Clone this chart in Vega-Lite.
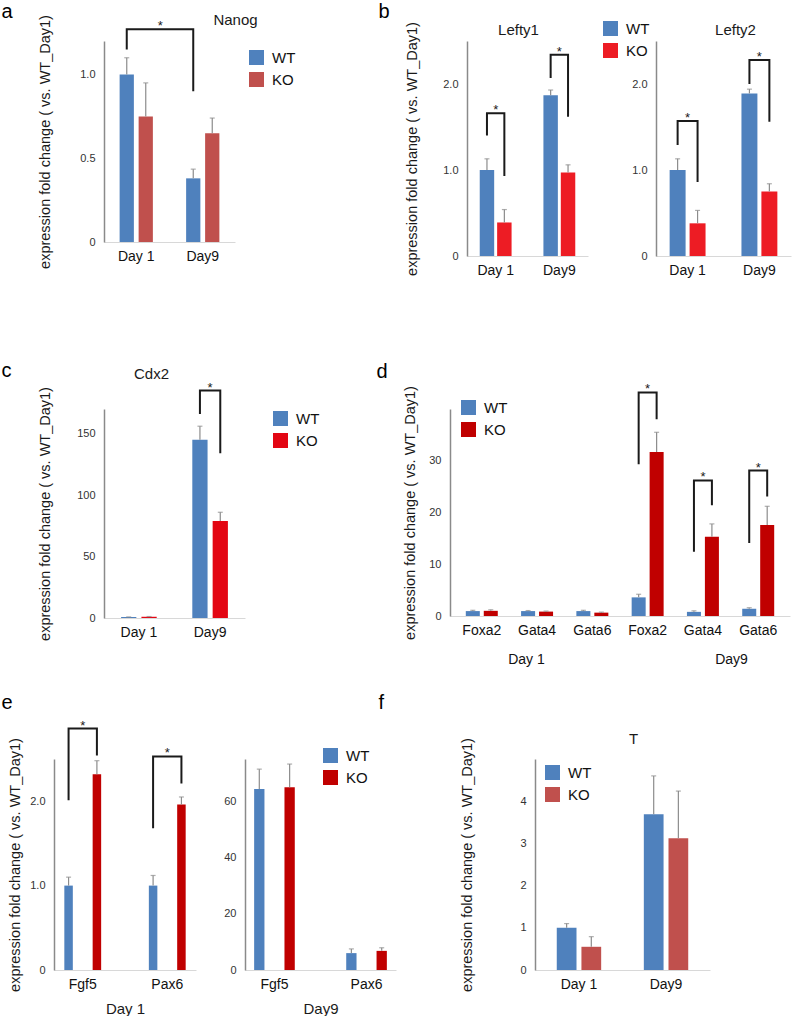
{
"$schema": "https://vega.github.io/schema/vega-lite/v6.json",
"background": "white",
"padding": {"left": 1, "top": 1, "right": 2, "bottom": 0},
"datasets": {
 "a": [{"day":"Day 1","g":"WT","value":1.0,"upper":1.10},{"day":"Day 1","g":"KO","value":0.75,"upper":0.95},{"day":"Day9","g":"WT","value":0.38,"upper":0.435},{"day":"Day9","g":"KO","value":0.65,"upper":0.74}],
 "a_br": [{"id":1,"o":1,"day":"Day 1","g":"WT","y":1.15},{"id":1,"o":2,"day":"Day 1","g":"WT","y":1.27},{"id":1,"o":3,"day":"Day9","g":"WT","y":1.27},{"id":1,"o":4,"day":"Day9","g":"WT","y":0.90}],
 "a_star": [{"day":"Day 1","y":1.27}],
 "b1": [{"day":"Day 1","g":"WT","value":1.0,"upper":1.13},{"day":"Day 1","g":"KO","value":0.39,"upper":0.54},{"day":"Day9","g":"WT","value":1.87,"upper":1.93},{"day":"Day9","g":"KO","value":0.97,"upper":1.06}],
 "b1_br": [{"id":1,"o":1,"day":"Day 1","g":"WT","y":1.40},{"id":1,"o":2,"day":"Day 1","g":"WT","y":1.66},{"id":1,"o":3,"day":"Day 1","g":"KO","y":1.66},{"id":1,"o":4,"day":"Day 1","g":"KO","y":0.93},{"id":2,"o":1,"day":"Day9","g":"WT","y":2.07},{"id":2,"o":2,"day":"Day9","g":"WT","y":2.34},{"id":2,"o":3,"day":"Day9","g":"KO","y":2.34},{"id":2,"o":4,"day":"Day9","g":"KO","y":1.62}],
 "b1_star": [{"day":"Day 1","y":1.66},{"day":"Day9","y":2.34}],
 "b2": [{"day":"Day 1","g":"WT","value":1.0,"upper":1.13},{"day":"Day 1","g":"KO","value":0.38,"upper":0.53},{"day":"Day9","g":"WT","value":1.89,"upper":1.94},{"day":"Day9","g":"KO","value":0.75,"upper":0.84}],
 "b2_br": [{"id":1,"o":1,"day":"Day 1","g":"WT","y":1.29},{"id":1,"o":2,"day":"Day 1","g":"WT","y":1.57},{"id":1,"o":3,"day":"Day 1","g":"KO","y":1.57},{"id":1,"o":4,"day":"Day 1","g":"KO","y":0.86},{"id":2,"o":1,"day":"Day9","g":"WT","y":2.0},{"id":2,"o":2,"day":"Day9","g":"WT","y":2.28},{"id":2,"o":3,"day":"Day9","g":"KO","y":2.28},{"id":2,"o":4,"day":"Day9","g":"KO","y":1.56}],
 "b2_star": [{"day":"Day 1","y":1.57},{"day":"Day9","y":2.28}],
 "c": [{"day":"Day 1","g":"WT","value":0.8,"upper":0.9},{"day":"Day 1","g":"KO","value":1.0,"upper":1.2},{"day":"Day9","g":"WT","value":145,"upper":156},{"day":"Day9","g":"KO","value":79,"upper":86}],
 "c_br": [{"id":1,"o":1,"day":"Day9","g":"WT","y":166},{"id":1,"o":2,"day":"Day9","g":"WT","y":185},{"id":1,"o":3,"day":"Day9","g":"KO","y":185},{"id":1,"o":4,"day":"Day9","g":"KO","y":134}],
 "c_star": [{"day":"Day9","y":185}],
 "d": [{"k":"Day 1|Foxa2","day":"Day 1","g":"WT","value":0.95,"upper":1.1},{"k":"Day 1|Foxa2","day":"Day 1","g":"KO","value":1.0,"upper":1.2},{"k":"Day 1|Gata4","day":"Day 1","g":"WT","value":0.95,"upper":1.05},{"k":"Day 1|Gata4","day":"Day 1","g":"KO","value":0.85,"upper":0.95},{"k":"Day 1|Gata6","day":"Day 1","g":"WT","value":0.95,"upper":1.1},{"k":"Day 1|Gata6","day":"Day 1","g":"KO","value":0.65,"upper":0.75},{"k":"Day9|Foxa2","day":"Day9","g":"WT","value":3.6,"upper":4.2},{"k":"Day9|Foxa2","day":"Day9","g":"KO","value":31.7,"upper":35.5},{"k":"Day9|Gata4","day":"Day9","g":"WT","value":0.8,"upper":1.0},{"k":"Day9|Gata4","day":"Day9","g":"KO","value":15.3,"upper":17.8},{"k":"Day9|Gata6","day":"Day9","g":"WT","value":1.4,"upper":1.6},{"k":"Day9|Gata6","day":"Day9","g":"KO","value":17.6,"upper":21.2}],
 "d_br": [{"id":1,"o":1,"k":"Day9|Foxa2","g":"WT","y":29.3},{"id":1,"o":2,"k":"Day9|Foxa2","g":"WT","y":43.2},{"id":1,"o":3,"k":"Day9|Foxa2","g":"KO","y":43.2},{"id":1,"o":4,"k":"Day9|Foxa2","g":"KO","y":38},{"id":2,"o":1,"k":"Day9|Gata4","g":"WT","y":12.4},{"id":2,"o":2,"k":"Day9|Gata4","g":"WT","y":26.2},{"id":2,"o":3,"k":"Day9|Gata4","g":"KO","y":26.2},{"id":2,"o":4,"k":"Day9|Gata4","g":"KO","y":21.4},{"id":3,"o":1,"k":"Day9|Gata6","g":"WT","y":14.1},{"id":3,"o":2,"k":"Day9|Gata6","g":"WT","y":28.1},{"id":3,"o":3,"k":"Day9|Gata6","g":"KO","y":28.1},{"id":3,"o":4,"k":"Day9|Gata6","g":"KO","y":23.1}],
 "d_star": [{"k":"Day9|Foxa2","y":43.2},{"k":"Day9|Gata4","y":26.2},{"k":"Day9|Gata6","y":28.1}],
 "e1": [{"gene":"Fgf5","g":"WT","value":1.0,"upper":1.1},{"gene":"Fgf5","g":"KO","value":2.32,"upper":2.48},{"gene":"Pax6","g":"WT","value":1.0,"upper":1.12},{"gene":"Pax6","g":"KO","value":1.96,"upper":2.05}],
 "e1_br": [{"id":1,"o":1,"gene":"Fgf5","g":"WT","y":2.01},{"id":1,"o":2,"gene":"Fgf5","g":"WT","y":2.86},{"id":1,"o":3,"gene":"Fgf5","g":"KO","y":2.86},{"id":1,"o":4,"gene":"Fgf5","g":"KO","y":2.54},{"id":2,"o":1,"gene":"Pax6","g":"WT","y":1.68},{"id":2,"o":2,"gene":"Pax6","g":"WT","y":2.53},{"id":2,"o":3,"gene":"Pax6","g":"KO","y":2.53},{"id":2,"o":4,"gene":"Pax6","g":"KO","y":2.21}],
 "e1_star": [{"gene":"Fgf5","y":2.86},{"gene":"Pax6","y":2.53}],
 "e2": [{"gene":"Fgf5","g":"WT","value":64.3,"upper":71.4},{"gene":"Fgf5","g":"KO","value":65,"upper":73.2},{"gene":"Pax6","g":"WT","value":6.0,"upper":7.5},{"gene":"Pax6","g":"KO","value":6.8,"upper":7.9}],
 "f": [{"day":"Day 1","g":"WT","value":1.0,"upper":1.1},{"day":"Day 1","g":"KO","value":0.55,"upper":0.79},{"day":"Day9","g":"WT","value":3.69,"upper":4.6},{"day":"Day9","g":"KO","value":3.12,"upper":4.24}]
},
"concat": [
 {"concat": [
  {"hconcat": [
   {"width":181,"height":201,
    "resolve":{"scale":{"x":"independent","y":"independent"}},
    "layer":[
     {"layer":[
      {"data":{"name":"a"},"mark":{"type":"bar"},
       "encoding":{
        "x":{"field":"day","type":"nominal","scale":{"domain":["Day 1","Day9"],"range":[50,181],"paddingInner":0.5,"paddingOuter":0.235},"axis":{"title":null}},
        "xOffset":{"field":"g","type":"nominal","scale":{"domain":["WT","KO"],"paddingInner":0.25,"paddingOuter":0}},
        "y":{"field":"value","type":"quantitative","scale":{"domain":[0,1.2],"nice":false},"axis":{"offset":-50,"values":[0,0.5,1],"labelExpr":"datum.value == 0 ? '0' : format(datum.value, '.1f')","title":"expression fold change ( vs. WT_Day1)","titlePadding":27}},
        "color":{"field":"g","type":"nominal","scale":{"domain":["WT","KO"],"range":["#4f81bd","#c0504d"]},"legend":{"title":null,"orient":"none","legendX":195,"legendY":9}}
       }},
      {"data":{"name":"a"},"mark":{"type":"rule","color":"#8c8c8c","strokeWidth":1.2},
       "encoding":{"x":{"field":"day","type":"nominal","axis":{"title":null}},"xOffset":{"field":"g","type":"nominal"},"y":{"field":"value","type":"quantitative"},"y2":{"field":"upper"}}},
      {"data":{"name":"a"},"mark":{"type":"tick","color":"#8c8c8c","size":5,"thickness":1.2},
       "encoding":{"x":{"field":"day","type":"nominal","axis":{"title":null}},"xOffset":{"field":"g","type":"nominal"},"y":{"field":"upper","type":"quantitative"}}},
      {"data":{"name":"a_br"},"mark":{"type":"line","color":"#1a1a1a","strokeWidth":2},
       "encoding":{"x":{"field":"day","type":"nominal","axis":{"title":null}},"xOffset":{"field":"g","type":"nominal"},"y":{"field":"y","type":"quantitative"},"detail":{"field":"id"},"order":{"field":"o"}}},
      {"data":{"name":"a_star"},"mark":{"type":"text","text":"*","fontSize":13,"baseline":"alphabetic","dx":24,"dy":1,"color":"#1a1a1a"},
       "encoding":{"x":{"field":"day","type":"nominal","axis":{"title":null}},"y":{"field":"y","type":"quantitative"}}}
     ]},
     {"data":{"name":"a"},"mark":{"type":"point","opacity":0},
      "encoding":{
       "x":{"field":"day","type":"nominal","axis":{"orient":"top","labels":false,"domain":false,"ticks":false,"title":"Nanog","titleX":181,"titleY":-17,"titleAngle":0,"titleAlign":"center","titleBaseline":"alphabetic","titleFontSize":15}},
       "y":{"field":"value","type":"quantitative","axis":{"orient":"left","labels":false,"domain":false,"ticks":false,"title":"a","titleX":-53,"titleY":-24,"titleAngle":0,"titleAlign":"left","titleBaseline":"alphabetic","titleFontSize":20,"titleColor":"#000000"}}
      }}
    ]},
   {"hconcat": [
    {"width":121,"height":215,
     "resolve":{"scale":{"x":"independent","y":"independent"}},
     "layer":[
      {"layer":[
       {"data":{"name":"b1"},"mark":{"type":"bar"},
        "encoding":{
         "x":{"field":"day","type":"nominal","scale":{"domain":["Day 1","Day9"],"paddingInner":0.5,"paddingOuter":0.2},"axis":{"title":null}},
         "xOffset":{"field":"g","type":"nominal","scale":{"domain":["WT","KO"],"paddingInner":0.17,"paddingOuter":0}},
         "y":{"field":"value","type":"quantitative","scale":{"domain":[0,2.5],"nice":false},"axis":{"values":[0,1,2],"labelExpr":"datum.value == 0 ? '0' : format(datum.value, '.1f')","title":"expression fold change ( vs. WT_Day1)","titlePadding":23}},
         "color":{"field":"g","type":"nominal","scale":{"domain":["WT","KO"],"range":["#4f81bd","#ed1c24"]},"legend":{"title":null,"orient":"none","legendX":136,"legendY":-20}}
        }},
       {"data":{"name":"b1"},"mark":{"type":"rule","color":"#8c8c8c","strokeWidth":1.2},
        "encoding":{"x":{"field":"day","type":"nominal","axis":{"title":null}},"xOffset":{"field":"g","type":"nominal"},"y":{"field":"value","type":"quantitative"},"y2":{"field":"upper"}}},
       {"data":{"name":"b1"},"mark":{"type":"tick","color":"#8c8c8c","size":5,"thickness":1.2},
        "encoding":{"x":{"field":"day","type":"nominal","axis":{"title":null}},"xOffset":{"field":"g","type":"nominal"},"y":{"field":"upper","type":"quantitative"}}},
       {"data":{"name":"b1_br"},"mark":{"type":"line","color":"#1a1a1a","strokeWidth":2},
        "encoding":{"x":{"field":"day","type":"nominal","axis":{"title":null}},"xOffset":{"field":"g","type":"nominal"},"y":{"field":"y","type":"quantitative"},"detail":{"field":"id"},"order":{"field":"o"}}},
       {"data":{"name":"b1_star"},"mark":{"type":"text","text":"*","fontSize":13,"baseline":"alphabetic","dy":1,"color":"#1a1a1a"},
        "encoding":{"x":{"field":"day","type":"nominal","axis":{"title":null}},"y":{"field":"y","type":"quantitative"}}}
      ]},
      {"data":{"name":"b1"},"mark":{"type":"point","opacity":0},
       "encoding":{
        "x":{"field":"day","type":"nominal","axis":{"orient":"top","labels":false,"domain":false,"ticks":false,"title":"Lefty1","titleX":51,"titleY":-7,"titleAngle":0,"titleAlign":"center","titleBaseline":"alphabetic","titleFontSize":15}},
        "y":{"field":"value","type":"quantitative","axis":{"orient":"left","labels":false,"domain":false,"ticks":false,"title":"b","titleX":-89,"titleY":-24,"titleAngle":0,"titleAlign":"left","titleBaseline":"alphabetic","titleFontSize":20,"titleColor":"#000000"}}
       }}
     ]},
    {"width":135,"height":215,
     "resolve":{"scale":{"x":"independent"}},
     "layer":[
      {"layer":[
       {"data":{"name":"b2"},"mark":{"type":"bar"},
        "encoding":{
         "x":{"field":"day","type":"nominal","scale":{"domain":["Day 1","Day9"],"paddingInner":0.5,"paddingOuter":0.19},"axis":{"title":null}},
         "xOffset":{"field":"g","type":"nominal","scale":{"domain":["WT","KO"],"paddingInner":0.2,"paddingOuter":0}},
         "y":{"field":"value","type":"quantitative","scale":{"domain":[0,2.5],"nice":false},"axis":{"values":[0,1,2],"labelExpr":"datum.value == 0 ? '0' : format(datum.value, '.1f')","title":null}},
         "color":{"field":"g","type":"nominal","scale":{"domain":["WT","KO"],"range":["#4f81bd","#ed1c24"]},"legend":null}
        }},
       {"data":{"name":"b2"},"mark":{"type":"rule","color":"#8c8c8c","strokeWidth":1.2},
        "encoding":{"x":{"field":"day","type":"nominal","axis":{"title":null}},"xOffset":{"field":"g","type":"nominal"},"y":{"field":"value","type":"quantitative"},"y2":{"field":"upper"}}},
       {"data":{"name":"b2"},"mark":{"type":"tick","color":"#8c8c8c","size":5,"thickness":1.2},
        "encoding":{"x":{"field":"day","type":"nominal","axis":{"title":null}},"xOffset":{"field":"g","type":"nominal"},"y":{"field":"upper","type":"quantitative"}}},
       {"data":{"name":"b2_br"},"mark":{"type":"line","color":"#1a1a1a","strokeWidth":2},
        "encoding":{"x":{"field":"day","type":"nominal","axis":{"title":null}},"xOffset":{"field":"g","type":"nominal"},"y":{"field":"y","type":"quantitative"},"detail":{"field":"id"},"order":{"field":"o"}}},
       {"data":{"name":"b2_star"},"mark":{"type":"text","text":"*","fontSize":13,"baseline":"alphabetic","dy":1,"color":"#1a1a1a"},
        "encoding":{"x":{"field":"day","type":"nominal","axis":{"title":null}},"y":{"field":"y","type":"quantitative"}}}
      ]},
      {"data":{"name":"b2"},"mark":{"type":"point","opacity":0},
       "encoding":{
        "x":{"field":"day","type":"nominal","axis":{"orient":"top","labels":false,"domain":false,"ticks":false,"title":"Lefty2","titleX":79,"titleY":-7,"titleAngle":0,"titleAlign":"center","titleBaseline":"alphabetic","titleFontSize":15}},
        "y":{"field":"value","type":"quantitative"}
       }}
     ]}
   ],
   "bounds":"flush","spacing":68,
   "resolve":{"scale":{"x":"independent","y":"independent","xOffset":"independent","color":"independent"},"legend":{"color":"independent"}}
   }
  ],
  "bounds":"flush","spacing":232,
  "resolve":{"scale":{"x":"independent","y":"independent","xOffset":"independent","color":"independent"},"legend":{"color":"independent"}}
  },
  {"hconcat": [
   {"width":191,"height":209,
    "resolve":{"scale":{"x":"independent","y":"independent"}},
    "layer":[
     {"layer":[
      {"data":{"name":"c"},"mark":{"type":"bar"},
       "encoding":{
        "x":{"field":"day","type":"nominal","scale":{"domain":["Day 1","Day9"],"range":[50,191],"paddingInner":0.5,"paddingOuter":0.24},"axis":{"title":null}},
        "xOffset":{"field":"g","type":"nominal","scale":{"domain":["WT","KO"],"paddingInner":0.25,"paddingOuter":0}},
        "y":{"field":"value","type":"quantitative","scale":{"domain":[0,170],"nice":false},"axis":{"offset":-50,"values":[0,50,100,150],"title":"expression fold change ( vs. WT_Day1)","titlePadding":24}},
        "color":{"field":"g","type":"nominal","scale":{"domain":["WT","KO"],"range":["#4f81bd","#e30613"]},"legend":{"title":null,"orient":"none","legendX":219,"legendY":2,"encode":{"symbols":{"update":{"fill":{"signal":"datum.value == 'KO' ? '#c0504d' : '#4f81bd'"}}}}}}
       }},
      {"data":{"name":"c"},"mark":{"type":"rule","color":"#8c8c8c","strokeWidth":1.2},
       "encoding":{"x":{"field":"day","type":"nominal","axis":{"title":null}},"xOffset":{"field":"g","type":"nominal"},"y":{"field":"value","type":"quantitative"},"y2":{"field":"upper"}}},
      {"data":{"name":"c"},"mark":{"type":"tick","color":"#8c8c8c","size":5,"thickness":1.2},
       "encoding":{"x":{"field":"day","type":"nominal","axis":{"title":null}},"xOffset":{"field":"g","type":"nominal"},"y":{"field":"upper","type":"quantitative"}}},
      {"data":{"name":"c_br"},"mark":{"type":"line","color":"#1a1a1a","strokeWidth":2},
       "encoding":{"x":{"field":"day","type":"nominal","axis":{"title":null}},"xOffset":{"field":"g","type":"nominal"},"y":{"field":"y","type":"quantitative"},"detail":{"field":"id"},"order":{"field":"o"}}},
      {"data":{"name":"c_star"},"mark":{"type":"text","text":"*","fontSize":13,"baseline":"alphabetic","dy":1,"color":"#1a1a1a"},
       "encoding":{"x":{"field":"day","type":"nominal","axis":{"title":null}},"y":{"field":"y","type":"quantitative"}}}
     ]},
     {"data":{"name":"c"},"mark":{"type":"point","opacity":0},
      "encoding":{
       "x":{"field":"day","type":"nominal","axis":{"orient":"top","labels":false,"domain":false,"ticks":false,"title":"Cdx2","titleX":97,"titleY":-31,"titleAngle":0,"titleAlign":"center","titleBaseline":"alphabetic","titleFontSize":15}},
       "y":{"field":"value","type":"quantitative","axis":{"orient":"left","labels":false,"domain":false,"ticks":false,"title":"c","titleX":-53,"titleY":-33,"titleAngle":0,"titleAlign":"left","titleBaseline":"alphabetic","titleFontSize":20,"titleColor":"#000000"}}
      }}
    ]},
   {"width":340,"height":207,
    "resolve":{"scale":{"x":"independent","y":"independent"}},
    "layer":[
     {"layer":[
      {"data":{"name":"d"},"mark":{"type":"bar"},
       "encoding":{
        "x":{"field":"k","type":"nominal","scale":{"domain":["Day 1|Foxa2","Day 1|Gata4","Day 1|Gata6","Day9|Foxa2","Day9|Gata4","Day9|Gata6"],"paddingInner":0.35,"paddingOuter":0.25},"axis":{"title":null,"labelExpr":"split(datum.label, '|')[1]"}},
        "xOffset":{"field":"g","type":"nominal","scale":{"domain":["WT","KO"],"paddingInner":0.22,"paddingOuter":0.11}},
        "y":{"field":"value","type":"quantitative","scale":{"domain":[0,40],"nice":false},"axis":{"values":[0,10,20,30],"title":"expression fold change ( vs. WT_Day1)","titlePadding":11}},
        "color":{"field":"g","type":"nominal","scale":{"domain":["WT","KO"],"range":["#4f81bd","#c00000"]},"legend":{"title":null,"orient":"none","legendX":11,"legendY":-9,"encode":{"symbols":{"update":{"fill":{"signal":"datum.value == 'KO' ? '#e00000' : '#4f81bd'"}}}}}}
       }},
      {"data":{"name":"d"},"mark":{"type":"rule","color":"#8c8c8c","strokeWidth":1.2},
       "encoding":{"x":{"field":"k","type":"nominal","axis":{"title":null}},"xOffset":{"field":"g","type":"nominal"},"y":{"field":"value","type":"quantitative"},"y2":{"field":"upper"}}},
      {"data":{"name":"d"},"mark":{"type":"tick","color":"#8c8c8c","size":5,"thickness":1.2},
       "encoding":{"x":{"field":"k","type":"nominal","axis":{"title":null}},"xOffset":{"field":"g","type":"nominal"},"y":{"field":"upper","type":"quantitative"}}},
      {"data":{"name":"d_br"},"mark":{"type":"line","color":"#1a1a1a","strokeWidth":2},
       "encoding":{"x":{"field":"k","type":"nominal","axis":{"title":null}},"xOffset":{"field":"g","type":"nominal"},"y":{"field":"y","type":"quantitative"},"detail":{"field":"id"},"order":{"field":"o"}}},
      {"data":{"name":"d_star"},"mark":{"type":"text","text":"*","fontSize":13,"baseline":"alphabetic","dy":1,"color":"#1a1a1a"},
       "encoding":{"x":{"field":"k","type":"nominal","axis":{"title":null}},"y":{"field":"y","type":"quantitative"}}}
     ]},
     {"data":{"name":"d"},"mark":{"type":"point","opacity":0},
      "encoding":{
       "x":{"field":"day","type":"nominal","scale":{"domain":["Day 1","Day9"],"paddingInner":0,"paddingOuter":0},"axis":{"orient":"bottom","title":null,"domain":false,"labelPadding":36,"labelOffset":{"condition":{"test":"datum.value == 'Day 1'","value":-9},"value":26}}},
       "y":{"field":"value","type":"quantitative","axis":{"orient":"left","labels":false,"domain":false,"ticks":false,"title":"d","titleX":-74,"titleY":-32,"titleAngle":0,"titleAlign":"left","titleBaseline":"alphabetic","titleFontSize":20,"titleColor":"#000000"}}
      }}
    ]}
  ],
  "bounds":"flush","spacing":205,
  "resolve":{"scale":{"x":"independent","y":"independent","xOffset":"independent","color":"independent"},"legend":{"color":"independent"}}
  }
 ],
 "columns": 1, "align": "none",
 "spacing": 83,
 "resolve":{"scale":{"x":"independent","y":"independent","xOffset":"independent","color":"independent"},"legend":{"color":"independent"}}
 },
 {"hconcat": [
  {"hconcat": [
   {"width":142,"height":211,
    "resolve":{"scale":{"y":"independent"}},
    "layer":[
     {"layer":[
      {"data":{"name":"e1"},"mark":{"type":"bar"},
       "encoding":{
        "x":{"field":"gene","type":"nominal","scale":{"domain":["Fgf5","Pax6"],"paddingInner":0.4,"paddingOuter":0.04},"axis":{"title":"Day 1"}},
        "xOffset":{"field":"g","type":"nominal","scale":{"domain":["WT","KO"],"paddingInner":0.7,"paddingOuter":0.245}},
        "y":{"field":"value","type":"quantitative","scale":{"domain":[0,2.5],"nice":false},"axis":{"values":[0,1,2],"labelExpr":"datum.value == 0 ? '0' : format(datum.value, '.1f')","title":"expression fold change ( vs. WT_Day1)","titlePadding":7}},
        "color":{"field":"g","type":"nominal","scale":{"domain":["WT","KO"],"range":["#4f81bd","#c00000"]},"legend":null}
       }},
      {"data":{"name":"e1"},"mark":{"type":"rule","color":"#8c8c8c","strokeWidth":1.2},
       "encoding":{"x":{"field":"gene","type":"nominal","axis":{"title":"Day 1"}},"xOffset":{"field":"g","type":"nominal"},"y":{"field":"value","type":"quantitative"},"y2":{"field":"upper"}}},
      {"data":{"name":"e1"},"mark":{"type":"tick","color":"#8c8c8c","size":5,"thickness":1.2},
       "encoding":{"x":{"field":"gene","type":"nominal","axis":{"title":"Day 1"}},"xOffset":{"field":"g","type":"nominal"},"y":{"field":"upper","type":"quantitative"}}},
      {"data":{"name":"e1_br"},"mark":{"type":"line","color":"#1a1a1a","strokeWidth":2},
       "encoding":{"x":{"field":"gene","type":"nominal","axis":{"title":"Day 1"}},"xOffset":{"field":"g","type":"nominal"},"y":{"field":"y","type":"quantitative"},"detail":{"field":"id"},"order":{"field":"o"}}},
      {"data":{"name":"e1_star"},"mark":{"type":"text","text":"*","fontSize":13,"baseline":"alphabetic","dy":1,"color":"#1a1a1a"},
       "encoding":{"x":{"field":"gene","type":"nominal","axis":{"title":"Day 1"}},"y":{"field":"y","type":"quantitative"}}}
     ]},
     {"data":{"name":"e1"},"mark":{"type":"point","opacity":0},
      "encoding":{
       "y":{"field":"value","type":"quantitative","axis":{"orient":"left","labels":false,"domain":false,"ticks":false,"title":"e","titleX":-53,"titleY":-51,"titleAngle":0,"titleAlign":"left","titleBaseline":"alphabetic","titleFontSize":20,"titleColor":"#000000"}}
      }}
    ]},
   {"width":151,"height":211,
    "layer":[
     {"data":{"name":"e2"},"mark":{"type":"bar"},
      "encoding":{
       "x":{"field":"gene","type":"nominal","scale":{"domain":["Fgf5","Pax6"],"paddingInner":0.44,"paddingOuter":0.04},"axis":{"title":"Day9"}},
       "xOffset":{"field":"g","type":"nominal","scale":{"domain":["WT","KO"],"paddingInner":0.66,"paddingOuter":0.18}},
       "y":{"field":"value","type":"quantitative","scale":{"domain":[0,75],"nice":false},"axis":{"values":[0,20,40,60],"title":null}},
       "color":{"field":"g","type":"nominal","scale":{"domain":["WT","KO"],"range":["#4f81bd","#c00000"]},"legend":{"title":null,"orient":"none","legendX":78,"legendY":-11}}
      }},
     {"data":{"name":"e2"},"mark":{"type":"rule","color":"#8c8c8c","strokeWidth":1.2},
      "encoding":{"x":{"field":"gene","type":"nominal","axis":{"title":"Day9"}},"xOffset":{"field":"g","type":"nominal"},"y":{"field":"value","type":"quantitative"},"y2":{"field":"upper"}}},
     {"data":{"name":"e2"},"mark":{"type":"tick","color":"#8c8c8c","size":5,"thickness":1.2},
      "encoding":{"x":{"field":"gene","type":"nominal","axis":{"title":"Day9"}},"xOffset":{"field":"g","type":"nominal"},"y":{"field":"upper","type":"quantitative"}}}
    ]}
  ],
  "bounds":"flush","spacing":49,
  "resolve":{"scale":{"x":"independent","y":"independent","xOffset":"independent","color":"independent"},"legend":{"color":"independent"}}
  },
  {"width":175,"height":211,
   "resolve":{"scale":{"x":"independent","y":"independent"}},
   "layer":[
    {"layer":[
     {"data":{"name":"f"},"mark":{"type":"bar"},
      "encoding":{
       "x":{"field":"day","type":"nominal","scale":{"domain":["Day 1","Day9"],"paddingInner":0.49,"paddingOuter":0.25},"axis":{"title":null}},
       "xOffset":{"field":"g","type":"nominal","scale":{"domain":["WT","KO"],"paddingInner":0.2,"paddingOuter":0}},
       "y":{"field":"value","type":"quantitative","scale":{"domain":[0,5],"nice":false},"axis":{"values":[0,1,2,3,4],"title":"expression fold change ( vs. WT_Day1)","titlePadding":45}},
       "color":{"field":"g","type":"nominal","scale":{"domain":["WT","KO"],"range":["#4f81bd","#c0504d"]},"legend":{"title":null,"orient":"none","legendX":10,"legendY":6,"encode":{"symbols":{"update":{"fill":{"signal":"datum.value == 'KO' ? '#b00000' : '#4f81bd'"}}}}}}
      }},
     {"data":{"name":"f"},"mark":{"type":"rule","color":"#8c8c8c","strokeWidth":1.2},
      "encoding":{"x":{"field":"day","type":"nominal","axis":{"title":null}},"xOffset":{"field":"g","type":"nominal"},"y":{"field":"value","type":"quantitative"},"y2":{"field":"upper"}}},
     {"data":{"name":"f"},"mark":{"type":"tick","color":"#8c8c8c","size":5,"thickness":1.2},
      "encoding":{"x":{"field":"day","type":"nominal","axis":{"title":null}},"xOffset":{"field":"g","type":"nominal"},"y":{"field":"upper","type":"quantitative"}}}
    ]},
    {"data":{"name":"f"},"mark":{"type":"point","opacity":0},
     "encoding":{
      "x":{"field":"day","type":"nominal","axis":{"orient":"top","labels":false,"domain":false,"ticks":false,"title":"T","titleX":98,"titleY":-16,"titleAngle":0,"titleAlign":"center","titleBaseline":"alphabetic","titleFontSize":15}},
      "y":{"field":"value","type":"quantitative","axis":{"orient":"left","labels":false,"domain":false,"ticks":false,"title":"f","titleX":-157,"titleY":-51,"titleAngle":0,"titleAlign":"left","titleBaseline":"alphabetic","titleFontSize":20,"titleColor":"#000000"}}
     }}
   ]}
 ],
 "bounds":"flush","spacing":481,
 "resolve":{"scale":{"x":"independent","y":"independent","xOffset":"independent","color":"independent"},"legend":{"color":"independent"}}
 }
],
"columns": 1, "align": "none",
"spacing": 26,
"resolve":{"scale":{"x":"independent","y":"independent","xOffset":"independent","color":"independent"},"legend":{"color":"independent"}},
"config": {
 "font": "Liberation Sans",
 "view": {"stroke": null},
 "axis": {"grid": false, "ticks": false, "titleFontWeight": "normal", "titleFontSize": 14.5, "titleColor": "#1a1a1a", "labelColor": "#333333"},
 "axisY": {"domainColor": "#8a8a8a", "domainWidth": 1.5, "labelFontSize": 11, "labelPadding": 9},
 "axisX": {"domainColor": "#d8d8d8", "domainWidth": 1, "labelFontSize": 14, "labelColor": "#111111", "labelAngle": 0, "labelPadding": 7, "titleFontSize": 15, "titlePadding": 10},
 "legend": {"symbolType": "square", "symbolSize": 225, "symbolStrokeWidth": 0, "labelFontSize": 15, "labelColor": "#111111", "rowPadding": 6, "labelOffset": 8},
 "title": {"fontWeight": "normal", "fontSize": 15, "color": "#111111"}
}
}
